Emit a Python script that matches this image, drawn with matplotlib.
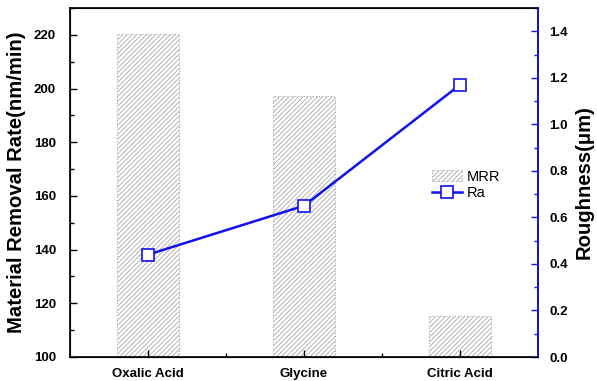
import matplotlib.pyplot as plt
import matplotlib.ticker as mticker

plt.rcParams['font.family'] = ['Liberation Sans', 'DejaVu Sans']
plt.rcParams['hatch.linewidth'] = 0.6
plt.rcParams['hatch.color'] = '#9a9a9a'

categories = ['Oxalic Acid', 'Glycine', 'Citric Acid']
mrr = [220.5, 197.4, 115.3]
ra = [0.44, 0.65, 1.17]

blue = '#1010f0'

fig = plt.figure(figsize=(5.97, 3.81), dpi=100)
ax = fig.add_axes([70 / 597, 24 / 381, 468 / 597, 349 / 381])
x = list(range(len(categories)))

bars = ax.bar(x, mrr, width=0.4, bottom=0, color='white', edgecolor='#a8a8a8',
              hatch='///////', linewidth=0.8, linestyle=':', label='MRR')
ax.set_ylim(100, 230)
ax.set_xlim(-0.5, 2.5)
ax.set_xticks(x)
ax.set_xticklabels(categories, fontweight='bold', fontsize=9.5)
ax.xaxis.set_minor_locator(mticker.FixedLocator([0.5, 1.5]))
ax.yaxis.set_major_locator(mticker.MultipleLocator(20))
ax.yaxis.set_minor_locator(mticker.MultipleLocator(10))
ax.tick_params(axis='both', which='both', direction='in')
ax.tick_params(axis='both', which='major', length=5, width=1, labelsize=9.5)
ax.tick_params(axis='both', which='minor', length=3, width=1)
ax.tick_params(axis='x', pad=8)
ax.tick_params(axis='y', pad=10)
for lbl in ax.get_yticklabels():
    lbl.set_fontweight('bold')
ax.set_ylabel('Material Removal Rate(nm/min)', fontsize=14.6, fontweight='bold', labelpad=6)
for s in ax.spines.values():
    s.set_linewidth(1.2)

ax2 = ax.twinx()
line, = ax2.plot(x, ra, color=blue, linewidth=1.8, marker='s', markersize=8,
                 markerfacecolor='white', markeredgecolor=blue, markeredgewidth=1.2,
                 label='Ra')
ax2.set_ylim(0, 1.5)
ax2.yaxis.set_major_locator(mticker.MultipleLocator(0.2))
ax2.yaxis.set_minor_locator(mticker.MultipleLocator(0.1))
ax2.yaxis.set_major_formatter(mticker.FormatStrFormatter('%.1f'))
ax2.tick_params(axis='y', which='both', direction='in', color=blue, width=1)
ax2.tick_params(axis='y', which='major', length=5, labelsize=9.5, pad=8)
ax2.tick_params(axis='y', which='minor', length=3)
for lbl in ax2.get_yticklabels():
    lbl.set_fontweight('bold')
ax2.spines['right'].set_color(blue)
ax2.spines['right'].set_linewidth(1.2)
ax2.set_ylabel('Roughness(μm)', fontsize=14.6, fontweight='bold', labelpad=5)

ax2.legend([bars, line], ['MRR', 'Ra'], loc='upper left', bbox_to_anchor=(0.757, 0.558),
           frameon=False, fontsize=10.5, handlelength=2.1, handletextpad=0.3,
           labelspacing=0.15, borderpad=0)

fig.savefig('out.png', dpi=100)
